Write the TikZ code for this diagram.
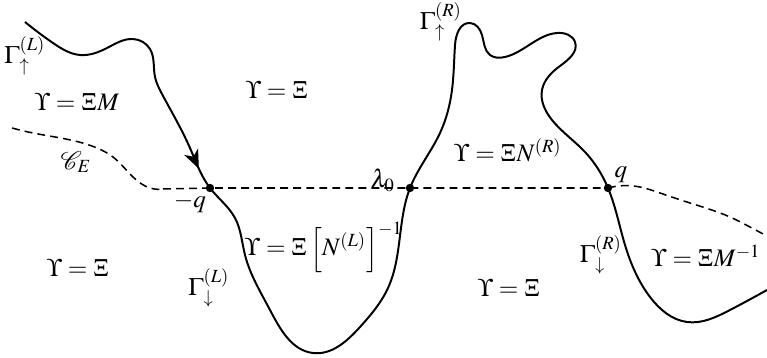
\documentclass[tikz,border=0pt]{standalone}
\usepackage{mathptmx}
\usepackage{mathrsfs}
\usetikzlibrary{arrows.meta,decorations.markings,hobby}
\begin{document}
\begin{tikzpicture}[x=0.43pt,y=-0.43pt,
  curve/.style={line width=0.85pt, line join=round},
  cut/.style={line width=0.65pt, dash pattern=on 3.4pt off 2.2pt},
  dot/.style={circle, fill=black, inner sep=0pt, minimum size=3.6pt},
  lab/.style={inner sep=0pt, font=\fontsize{10.8}{13}\selectfont}]
\useasboundingbox (0,0) rectangle (767,358);
% main contour
\draw[curve, use Hobby shortcut, postaction={decorate}, decoration={markings,
   mark=at position 117pt with {\arrow{Stealth[length=8pt,width=6.5pt,inset=2.3pt]}}}]
 (25,22) .. (53,43) .. (80,55) .. (107,48) .. (133,39) .. (150,49) .. (155,77) .. (162,94) .. (190,148) .. (210,188)
 .. (235,218) .. (245,255) .. (270,310) .. (313,353) .. (360,327) .. (388,288) .. (410,188)
 .. (440,133) .. (452,90) .. (455,45) .. (470,23) .. (482,35) .. (490,55) .. (505,57)
 .. (557,33) .. (575,42) .. (560,66) .. (542,90) .. (552,120) .. (585,152) .. (608,188)
 .. (625,245) .. (650,297) .. (687,322) .. (730,310) .. (767,290);
% dashed cut
\draw[cut, use Hobby shortcut] (12,128) .. (33,133) .. (97,148) .. (113,157) .. (133,177) .. (150,188) .. (163,189);
\draw[cut] (163,189) -- (210,188) -- (608,188);
\draw[cut, use Hobby shortcut] (608,188) .. (640,187) .. (657,192) .. (690,203) .. (730,217) .. (750,227) .. (765,235);
% points
\node[dot] (mq) at (210,188) {};
\node[dot] (l0) at (410,188) {};
\node[dot] (pq) at (608,188) {};
% labels
\node[lab] (gul) at (25,56) {$\Gamma_{\uparrow}^{(L)}$};
\node[lab] (gur) at (441,22) {$\Gamma_{\uparrow}^{(R)}$};
\node[lab] (gdl) at (209,288) {$\Gamma_{\downarrow}^{(L)}$};
\node[lab] (gdr) at (601,255) {$\Gamma_{\downarrow}^{(R)}$};
\node[lab] (r1) at (77,102) {$\Upsilon = \Xi M$};
\node[lab] (r2) at (277,90) {$\Upsilon = \Xi$};
\node[lab] (ce) at (76,162) {$\mathscr{C}_E$};
\node[lab] (tmq) at (190,203) {$-q$};
\node[lab] (tl0) at (383,180) {$\lambda_0$};
\node[lab] (tpq) at (621,175) {$q$};
\node[lab] (r3) at (508,150) {$\Upsilon = \Xi N^{(R)}$};
\node[lab] (r4) at (324,247) {$\Upsilon = \Xi\left[N^{(L)}\right]^{-1}$};
\node[lab] (r5) at (78,268) {$\Upsilon = \Xi$};
\node[lab] (r6) at (509,288) {$\Upsilon = \Xi$};
\node[lab] (r7) at (706,256) {$\Upsilon = \Xi M^{-1}$};
\end{tikzpicture}
\end{document}
